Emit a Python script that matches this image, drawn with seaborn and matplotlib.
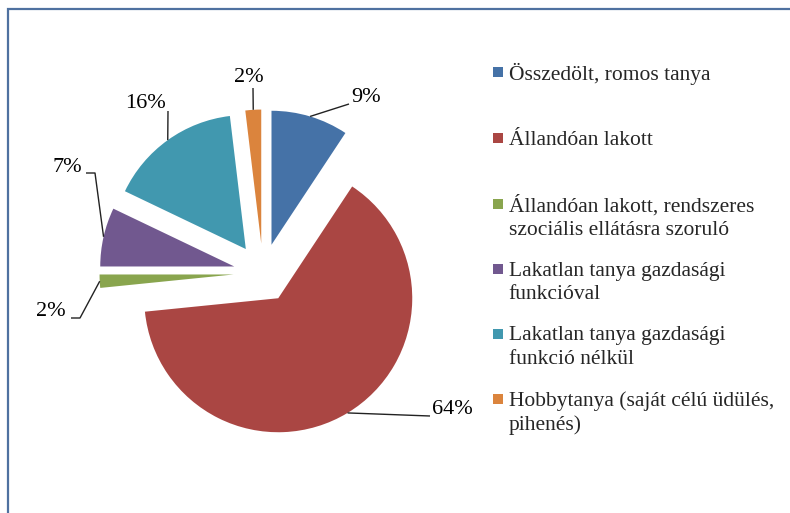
import numpy as np
import matplotlib
matplotlib.use("Agg")
import matplotlib.pyplot as plt
import seaborn as sns
from matplotlib.patches import Rectangle
from matplotlib.legend_handler import HandlerPatch

# ---- data ----
categories = [
    "Összedölt, romos tanya",
    "Állandóan lakott",
    "Állandóan lakott, rendszeres\nszociális ellátásra szoruló",
    "Lakatlan tanya gazdasági\nfunkcióval",
    "Lakatlan tanya gazdasági\nfunkció nélkül",
    "Hobbytanya (saját célú üdülés,\npihenés)",
]
values = [9.3, 64.1, 1.6, 7.1, 16.0, 1.9]
colors = ["#4572A7", "#AA4643", "#89A54E", "#71588F", "#4198AF", "#DB843D"]

sns.set_theme(style="white")
plt.rcParams["font.family"] = ["Liberation Serif", "DejaVu Serif"]

W, H = 790, 513
fig = plt.figure(figsize=(W / 100, H / 100), dpi=100)
ax = fig.add_axes([0, 0, 1, 1])

# layout: pie centre (px) and radius (px)
cx, cy, R = 263, 273, 134

explode = 0.22
wedges, _ = ax.pie(values, colors=colors, startangle=90, counterclock=False,
                   explode=[explode] * len(values), radius=1,
                   wedgeprops=dict(linewidth=0))
ax.set_aspect("auto")
ax.set_xlim(-cx / R, (W - cx) / R)
ax.set_ylim((cy - H) / R, cy / R)
ax.axis("off")

def px(x, y):
    """pixel (y down) -> data"""
    return (x - cx) / R, (cy - y) / R

# label layout: text position (px), ha, elbow point (px) or None
label_layout = [
    dict(text=(351, 97), ha="left", elbow=None, end=(349, 104)),
    dict(text=(432, 409), ha="left", elbow=None, end=(430, 416)),
    dict(text=(66, 312), ha="right", elbow=(80, 318), end=(71, 318)),
    dict(text=(82, 168), ha="right", elbow=(95, 173), end=(86, 173)),
    dict(text=(145, 104), ha="center", elbow=None, end=(168, 111)),
    dict(text=(249, 78), ha="center", elbow=None, end=(253, 88)),
]

for w, v, lay in zip(wedges, values, label_layout):
    theta = np.deg2rad((w.theta1 + w.theta2) / 2)
    c = w.center
    ax_, ay_ = c[0] + np.cos(theta) * 1.0, c[1] + np.sin(theta) * 1.0
    pts = [(ax_, ay_)]
    if lay["elbow"] is not None:
        pts.append(px(*lay["elbow"]))
    pts.append(px(*lay["end"]))
    xs, ys = zip(*pts)
    ax.plot(xs, ys, color="#222222", lw=1.0, solid_capstyle="butt")
    tx, ty = px(*lay["text"])
    ax.text(tx, ty, f"{round(v)}%", ha=lay["ha"], va="center", fontsize=16,
            color="black")

# legend with square markers aligned to first line
LS = 1.3
class TopSquare(HandlerPatch):
    def create_artists(self, legend, orig_handle, xdescent, ydescent,
                       width, height, fontsize, trans):
        s = 0.48 * fontsize
        r = Rectangle((width - s, height / 2 - s / 2 + 0.5 * LS * fontsize),
                      s, s,
                      facecolor=orig_handle.get_facecolor(), edgecolor="none",
                      transform=trans)
        return [r]

handles = [Rectangle((0, 0), 1, 1, facecolor=c) for c in colors]
labels = [c if "\n" in c else c + "\n " for c in categories]
leg = fig.legend(handles, labels, loc="upper left",
                 bbox_to_anchor=(471 / W, 1 - 44 / H), frameon=False,
                 fontsize=15.5, handlelength=0.6, handleheight=0.6,
                 handletextpad=0.25, labelspacing=1.03,
                 handler_map={Rectangle: TopSquare()})
for t in leg.get_texts():
    t.set_linespacing(LS)

# chart border
fig.patches.append(Rectangle((8 / W, -0.1), 1.2, 1 - 9 / H + 0.1,
                             transform=fig.transFigure, fill=False,
                             edgecolor="#4F71A0", lw=1.6, zorder=10))

fig.savefig("out.png", dpi=100)
